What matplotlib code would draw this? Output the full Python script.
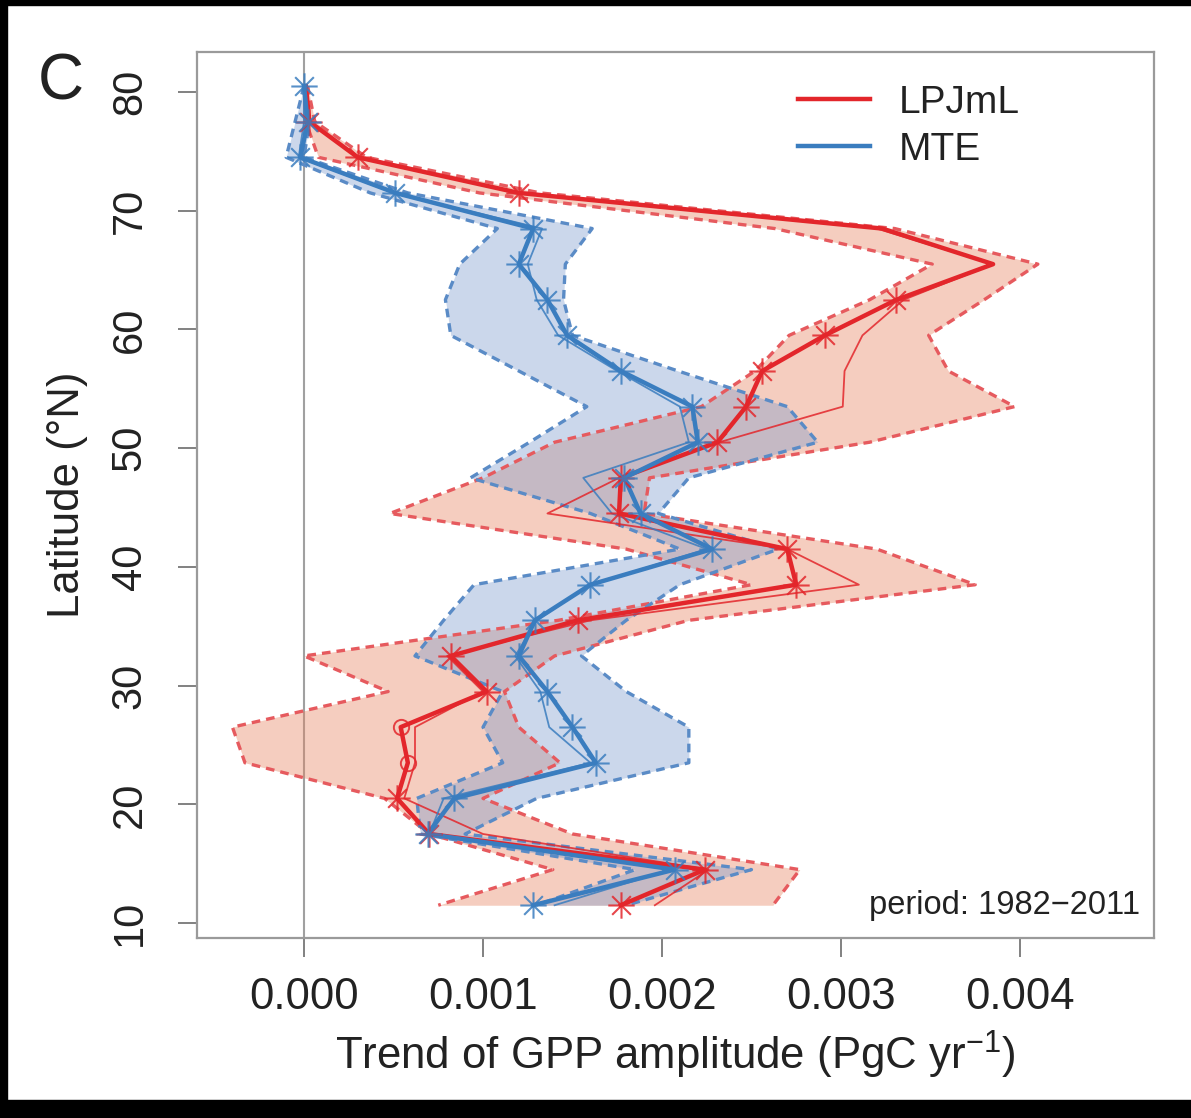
import numpy as np
import matplotlib
matplotlib.use("Agg")
import matplotlib.pyplot as plt
from matplotlib.path import Path
from matplotlib.patches import Rectangle
from matplotlib.lines import Line2D

plt.rcParams['font.family'] = ['Liberation Sans', 'DejaVu Sans']
plt.rcParams['mathtext.fontset'] = 'custom'
plt.rcParams['mathtext.rm'] = 'Liberation Sans'
plt.rcParams['mathtext.it'] = 'Liberation Sans'

# ---------------- data ----------------
lat = [80.5, 77.5, 74.5, 71.5, 68.5, 65.5, 62.5, 59.5, 56.5, 53.5, 50.5, 47.5,
       44.5, 41.5, 38.5, 35.5, 32.5, 29.5, 26.5, 23.5, 20.5, 17.5, 14.5, 11.5]

lpj_mean = [0.00001, 0.00003, 0.00030, 0.00120, 0.00323, 0.00385, 0.00331, 0.00291,
            0.00256, 0.00247, 0.00231, 0.00177, 0.00176, 0.00270, 0.00275, 0.00153,
            0.00082, 0.00102, 0.00054, 0.00058, 0.00052, 0.00070, 0.00224, 0.00177]
lpj_thin = [0.00000, 0.00003, 0.00030, 0.00120, 0.00320, 0.00385, 0.00335, 0.00312,
            0.00302, 0.00301, 0.00232, 0.00176, 0.00136, 0.00270, 0.00310, 0.00160,
            0.00080, 0.00100, 0.00062, 0.00062, 0.00056, 0.00100, 0.00226, 0.00196]
lpj_low = [0.00000, 0.00001, 0.00008, 0.00098, 0.00263, 0.00351, 0.00316, 0.00271,
           0.00252, 0.00222, 0.00140, 0.00100, 0.00048, 0.00180, 0.00250, 0.00142,
           0.00000, 0.00047, -0.00040, -0.00033, 0.00045, 0.00070, 0.00139, 0.00075]
lpj_high = [0.00002, 0.00006, 0.00035, 0.00132, 0.00330, 0.00410, 0.00380, 0.00349,
            0.00360, 0.00397, 0.00316, 0.00193, 0.00190, 0.00320, 0.00375, 0.00215,
            0.00140, 0.00112, 0.00120, 0.00143, 0.00100, 0.00150, 0.00277, 0.00262]
# 1 = asterisk (significant), 0 = open circle, -1 = no marker
lpj_sig = [-1, 1, 1, 1, -1, -1, 1, 1, 1, 1, 1, 1, 1, 1, 1, 1, 1, 1, 0, 0, 1, 1, 1, 1]

mte_mean = [0.00000, 0.00002, -0.00002, 0.00051, 0.00128, 0.00120, 0.00136, 0.00147,
            0.00177, 0.00217, 0.00220, 0.00179, 0.00188, 0.00228, 0.00160, 0.00129,
            0.00120, 0.00136, 0.00150, 0.00163, 0.00084, 0.00069, 0.00207, 0.00128]
mte_thin = [0.00000, 0.00000, -0.00003, 0.00050, 0.00133, 0.00125, 0.00130, 0.00142,
            0.00175, 0.00210, 0.00215, 0.00156, 0.00172, 0.00225, 0.00160, 0.00130,
            0.00118, 0.00132, 0.00137, 0.00160, 0.00078, 0.00070, 0.00205, 0.00140]
mte_low = [0.00000, -0.00005, -0.00010, 0.00037, 0.00108, 0.00087, 0.00079, 0.00082,
           0.00120, 0.00158, 0.00126, 0.00093, 0.00160, 0.00210, 0.00095, 0.00078,
           0.00062, 0.00111, 0.00100, 0.00111, 0.00063, 0.00065, 0.00185, 0.00130]
mte_high = [0.00000, 0.00003, 0.00000, 0.00058, 0.00161, 0.00146, 0.00145, 0.00150,
            0.00209, 0.00270, 0.00287, 0.00215, 0.00198, 0.00265, 0.00210, 0.00180,
            0.00155, 0.00180, 0.00215, 0.00215, 0.00130, 0.00090, 0.00250, 0.00180]
mte_sig = [1] * 24

series_names = ['LPJmL', 'MTE']
period_text = 'period: 1982\u22122011'

# ---------------- style ----------------
RED = '#E3262B'
BLUE = '#3A7DBF'
RED_FILL = (230/255, 130/255, 95/255)
BLUE_FILL = (127/255, 157/255, 205/255)
RED_DASH = '#E65A5E'
BLUE_DASH = '#5A8BC6'

# R pch=8 asterisk marker
ast = Path([(-1, 0), (1, 0), (0, -1), (0, 1),
            (-0.707, -0.707), (0.707, 0.707), (-0.707, 0.707), (0.707, -0.707)],
           [Path.MOVETO, Path.LINETO] * 4)

W, H = 1191, 1118
fig = plt.figure(figsize=(W / 100, H / 100), dpi=100)
ax = fig.add_axes([197 / W, 1 - 938 / H, (1154 - 197) / W, (938 - 52) / H])

lat_a = np.array(lat)

def draw(mean, thin, low, high, sig, col, fill, dash):
    ax.fill_betweenx(lat_a, low, high, color=fill, alpha=0.4, lw=0, zorder=1)
    ax.plot(low, lat_a, ls=(0, (2.6, 1.8)), color=dash, lw=2.4, zorder=2)
    ax.plot(high, lat_a, ls=(0, (2.6, 1.8)), color=dash, lw=2.4, zorder=2)
    ax.plot(thin, lat_a, color=col, lw=1.3, alpha=0.85, zorder=3)
    ax.plot(mean, lat_a, color=col, lw=3.2, zorder=4)
    m = np.array(mean)
    s = np.array(sig)
    ax.plot(m[s == 1], lat_a[s == 1], ls='none', marker=ast, ms=19, mew=1.5,
            mec=col, mfc='none', zorder=5, alpha=0.85)
    ax.plot(m[s == 0], lat_a[s == 0], ls='none', marker='o', ms=11, mew=1.4,
            mec=col, mfc='none', zorder=5, alpha=0.85)

ax.axvline(0, color='#a0a0a0', lw=1.5, zorder=0)
draw(lpj_mean, lpj_thin, lpj_low, lpj_high, lpj_sig, RED, RED_FILL, RED_DASH)
draw(mte_mean, mte_thin, mte_low, mte_high, mte_sig, BLUE, BLUE_FILL, BLUE_DASH)

ax.set_xlim(-0.000598, 0.004749)
ax.set_ylim(8.74, 83.37)
ax.set_xticks([0, 0.001, 0.002, 0.003, 0.004])
ax.set_xticklabels(['0.000', '0.001', '0.002', '0.003', '0.004'], fontsize=31.5)
ax.set_yticks([10, 20, 30, 40, 50, 60, 70, 80])
ax.set_yticklabels(['10', '20', '30', '40', '50', '60', '70', '80'], fontsize=30,
                   rotation=90, va='center')
for sp in ax.spines.values():
    sp.set_color('#9a9a9a')
    sp.set_linewidth(1.6)
ax.tick_params(axis='both', direction='out', length=14, width=1.3, color='#777777',
               labelcolor='#222222')
ax.tick_params(axis='x', pad=14)
ax.tick_params(axis='y', pad=20)

ax.set_xlabel('Trend of GPP amplitude (PgC yr$^{-1}$)', fontsize=31.5, color='#222222',
              labelpad=8)
ax.set_ylabel('Latitude (\u00b0N)', fontsize=31.5, color='#222222', labelpad=16)

handles = [Line2D([], [], color=RED, lw=3.2), Line2D([], [], color=BLUE, lw=3.2)]
ax.legend(handles, series_names, loc='upper left', bbox_to_anchor=(798 / W, 1 - 85 / H),
          bbox_transform=fig.transFigure, frameon=False, fontsize=28, handlelength=1.85,
          handletextpad=0.75, labelspacing=0.27, borderpad=0, borderaxespad=0,
          labelcolor='#222222')

ax.text(0.9855, 0.037, period_text, transform=ax.transAxes, ha='right', va='center',
        fontsize=23.5, color='#222222')
fig.text(61 / W, 1 - 82 / H, 'C', fontsize=46, ha='center', va='center', color='#222222')

# black frame edges of the screenshot
fig.patches.append(Rectangle((0, 1 - 5 / H), 1, 5 / H, transform=fig.transFigure,
                             color='black', zorder=10))
fig.patches.append(Rectangle((0, 0), 7 / W, 1, transform=fig.transFigure,
                             color='black', zorder=10))
fig.patches.append(Rectangle((0, 0), 1, 18 / H, transform=fig.transFigure,
                             color='black', zorder=10))

fig.savefig('out.png', dpi=100)
